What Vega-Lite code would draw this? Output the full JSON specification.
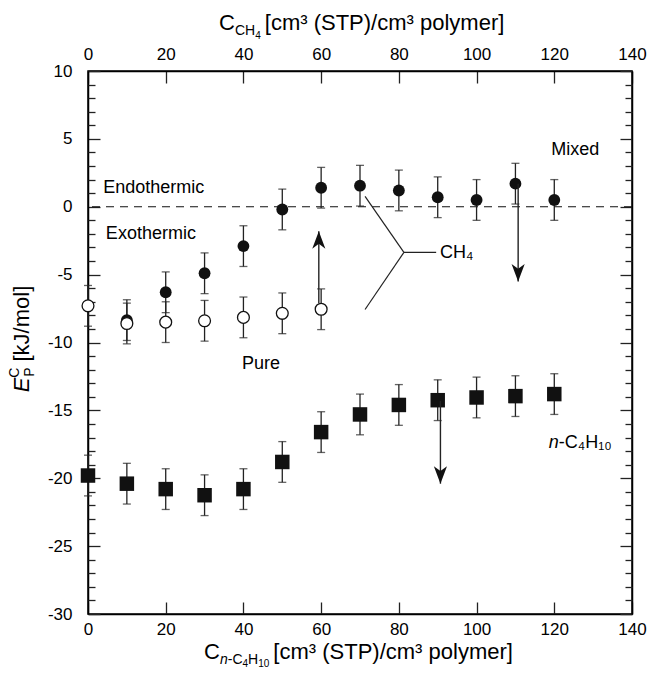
{
  "$schema": "https://vega.github.io/schema/vega-lite/v6.json",
  "width": 544,
  "height": 543,
  "autosize": {"type": "none"},
  "padding": {"left": 88, "top": 71, "right": 17, "bottom": 59},
  "background": "#ffffff",
  "config": {
    "font": "Liberation Sans",
    "view": {"stroke": "#000", "strokeWidth": 1.5},
    "axis": {
      "grid": false,
      "labelFont": "Liberation Sans",
      "labelFontSize": 17,
      "labelColor": "#000",
      "tickColor": "#222",
      "tickWidth": 1.3,
      "domainColor": "#000",
      "domainWidth": 1.5,
      "labelFlush": false,
      "labelOverlap": false,
      "labelExpr": "'' + datum.value"
    },
    "text": {"font": "Liberation Sans", "color": "#000"}
  },
  "datasets": {
    "points": [
      {"series": "Mixed", "x": 10, "y": -8.35, "lo": -9.85, "hi": -6.85},
      {"series": "Mixed", "x": 20, "y": -6.3, "lo": -7.8, "hi": -4.8},
      {"series": "Mixed", "x": 30, "y": -4.9, "lo": -6.4, "hi": -3.4},
      {"series": "Mixed", "x": 40, "y": -2.9, "lo": -4.4, "hi": -1.4},
      {"series": "Mixed", "x": 50, "y": -0.2, "lo": -1.7, "hi": 1.3},
      {"series": "Mixed", "x": 60, "y": 1.4, "lo": -0.1, "hi": 2.9},
      {"series": "Mixed", "x": 70, "y": 1.55, "lo": 0.05, "hi": 3.05},
      {"series": "Mixed", "x": 80, "y": 1.2, "lo": -0.3, "hi": 2.7},
      {"series": "Mixed", "x": 90, "y": 0.7, "lo": -0.8, "hi": 2.2},
      {"series": "Mixed", "x": 100, "y": 0.5, "lo": -1.0, "hi": 2.0},
      {"series": "Mixed", "x": 110, "y": 1.7, "lo": 0.2, "hi": 3.2},
      {"series": "Mixed", "x": 120, "y": 0.5, "lo": -1.0, "hi": 2.0},
      {"series": "Pure", "x": 0, "y": -7.3, "lo": -8.8, "hi": -5.8},
      {"series": "Pure", "x": 10, "y": -8.6, "lo": -10.1, "hi": -7.1},
      {"series": "Pure", "x": 20, "y": -8.5, "lo": -10.0, "hi": -7.0},
      {"series": "Pure", "x": 30, "y": -8.4, "lo": -9.9, "hi": -6.9},
      {"series": "Pure", "x": 40, "y": -8.15, "lo": -9.65, "hi": -6.65},
      {"series": "Pure", "x": 50, "y": -7.85, "lo": -9.35, "hi": -6.35},
      {"series": "Pure", "x": 60, "y": -7.55, "lo": -9.05, "hi": -6.05},
      {"series": "nC4H10", "x": 0, "y": -19.8, "lo": -21.3, "hi": -18.3},
      {"series": "nC4H10", "x": 10, "y": -20.4, "lo": -21.9, "hi": -18.9},
      {"series": "nC4H10", "x": 20, "y": -20.8, "lo": -22.3, "hi": -19.3},
      {"series": "nC4H10", "x": 30, "y": -21.25, "lo": -22.75, "hi": -19.75},
      {"series": "nC4H10", "x": 40, "y": -20.8, "lo": -22.3, "hi": -19.3},
      {"series": "nC4H10", "x": 50, "y": -18.8, "lo": -20.3, "hi": -17.3},
      {"series": "nC4H10", "x": 60, "y": -16.6, "lo": -18.1, "hi": -15.1},
      {"series": "nC4H10", "x": 70, "y": -15.3, "lo": -16.8, "hi": -13.8},
      {"series": "nC4H10", "x": 80, "y": -14.6, "lo": -16.1, "hi": -13.1},
      {"series": "nC4H10", "x": 90, "y": -14.25, "lo": -15.75, "hi": -12.75},
      {"series": "nC4H10", "x": 100, "y": -14.05, "lo": -15.55, "hi": -12.55},
      {"series": "nC4H10", "x": 110, "y": -13.95, "lo": -15.45, "hi": -12.45},
      {"series": "nC4H10", "x": 120, "y": -13.8, "lo": -15.3, "hi": -12.3}
    ],
    "arrows": [
      {"dir": "up", "x": 59.4, "from": -7.1, "to": -1.8},
      {"dir": "down", "x": 110.7, "from": 1.7, "to": -5.5},
      {"dir": "down", "x": 90.7, "from": -14.3, "to": -20.4}
    ],
    "connector": [
      {"x": 71.3, "y": 0.76, "x2": 81.3, "y2": -3.36},
      {"x": 81.3, "y": -3.36, "x2": 89.6, "y2": -3.36},
      {"x": 81.3, "y": -3.36, "x2": 71.3, "y2": -7.57}
    ],
    "notes": [
      {"label": "Endothermic", "x": 3.9, "y": 1.4},
      {"label": "Exothermic", "x": 4.6, "y": -2.0},
      {"label": "CH₄", "x": 90.6, "y": -3.4}
    ],
    "centered": [
      {"label": "Pure", "x": 44.5, "y": -11.6},
      {"label": "Mixed", "x": 125.4, "y": 4.2}
    ],
    "topTitle": [{"x": 45.5, "y": 13.0}],
    "bottomTitle": [{"x": 47.7, "y": -33.3}],
    "leftTitle": [{"x": -15.2, "y": -11.4}]
  },
  "resolve": {"axis": {"x": "independent", "y": "independent"}},
  "layer": [
    {
      "data": {"values": [{"level": 0}]},
      "mark": {"type": "rule", "strokeDash": [8, 6], "color": "#111", "strokeWidth": 1.1},
      "encoding": {
        "y": {
          "field": "level", "type": "quantitative",
          "scale": {"domain": [-30, 10], "nice": false, "zero": false},
          "axis": {
            "orient": "left", "title": null,
            "values": [-30, -25, -20, -15, -10, -5, 0, 5, 10],
            "tickSize": -12, "labelPadding": 28
          }
        }
      }
    },
    {
      "data": {"name": "points"},
      "mark": {"type": "rule", "color": "#222", "strokeWidth": 1.3},
      "encoding": {
        "x": {
          "field": "x", "type": "quantitative",
          "scale": {"domain": [0, 140], "nice": false, "zero": false},
          "axis": {
            "orient": "bottom", "title": null,
            "values": [0, 20, 40, 60, 80, 100, 120, 140],
            "tickSize": -12, "labelPadding": 19
          }
        },
        "y": {
          "field": "lo", "type": "quantitative",
          "scale": {"domain": [-30, 10], "nice": false, "zero": false},
          "axis": {
            "orient": "right", "title": null, "labels": false,
            "values": [-30, -25, -20, -15, -10, -5, 0, 5, 10],
            "tickSize": -12
          }
        },
        "y2": {"field": "hi"}
      }
    },
    {
      "data": {"name": "points"},
      "mark": {"type": "tick", "orient": "horizontal", "color": "#222", "size": 8, "thickness": 1.3},
      "encoding": {
        "x": {
          "field": "x", "type": "quantitative",
          "axis": {
            "orient": "top", "title": null,
            "values": [0, 20, 40, 60, 80, 100, 120, 140],
            "tickSize": -12, "labelPadding": 20
          }
        },
        "y": {
          "field": "lo", "type": "quantitative",
          "axis": {
            "orient": "left", "title": null, "labels": false, "domain": false,
            "values": [-29, -28, -27, -26, -24, -23, -22, -21, -19, -18, -17, -16, -14, -13, -12, -11, -9, -8, -7, -6, -4, -3, -2, -1, 1, 2, 3, 4, 6, 7, 8, 9],
            "tickSize": -7
          }
        }
      }
    },
    {
      "data": {"name": "points"},
      "mark": {"type": "tick", "orient": "horizontal", "color": "#222", "size": 8, "thickness": 1.3},
      "encoding": {
        "x": {"field": "x", "type": "quantitative", "axis": null},
        "y": {
          "field": "hi", "type": "quantitative",
          "axis": {
            "orient": "right", "title": null, "labels": false, "domain": false,
            "values": [-29, -28, -27, -26, -24, -23, -22, -21, -19, -18, -17, -16, -14, -13, -12, -11, -9, -8, -7, -6, -4, -3, -2, -1, 1, 2, 3, 4, 6, 7, 8, 9],
            "tickSize": -7
          }
        }
      }
    },
    {
      "data": {"name": "points"},
      "transform": [{"filter": "datum.series === 'nC4H10'"}],
      "mark": {"type": "point", "shape": "square", "filled": true, "color": "#111", "size": 210, "opacity": 1},
      "encoding": {
        "x": {"field": "x", "type": "quantitative", "axis": null},
        "y": {"field": "y", "type": "quantitative", "axis": null}
      }
    },
    {
      "data": {"name": "points"},
      "transform": [{"filter": "datum.series === 'Mixed'"}],
      "mark": {"type": "point", "shape": "circle", "filled": true, "color": "#111", "size": 140, "opacity": 1},
      "encoding": {
        "x": {"field": "x", "type": "quantitative", "axis": null},
        "y": {"field": "y", "type": "quantitative", "axis": null}
      }
    },
    {
      "data": {"name": "points"},
      "transform": [{"filter": "datum.series === 'Pure'"}],
      "mark": {"type": "point", "shape": "circle", "filled": false, "fill": "#fff", "fillOpacity": 1, "stroke": "#111", "strokeWidth": 1.3, "size": 140, "opacity": 1},
      "encoding": {
        "x": {"field": "x", "type": "quantitative", "axis": null},
        "y": {"field": "y", "type": "quantitative", "axis": null}
      }
    },
    {
      "data": {"name": "connector"},
      "mark": {"type": "rule", "color": "#222", "strokeWidth": 1.2},
      "encoding": {
        "x": {"field": "x", "type": "quantitative", "axis": null},
        "y": {"field": "y", "type": "quantitative", "axis": null},
        "x2": {"field": "x2"},
        "y2": {"field": "y2"}
      }
    },
    {
      "data": {"name": "arrows"},
      "mark": {"type": "rule", "color": "#222", "strokeWidth": 1.4},
      "encoding": {
        "x": {"field": "x", "type": "quantitative", "axis": null},
        "y": {"field": "from", "type": "quantitative", "axis": null},
        "y2": {"field": "to"}
      }
    },
    {
      "data": {"name": "arrows"},
      "transform": [{"filter": "datum.dir === 'up'"}],
      "mark": {"type": "point", "shape": "M0,0L0.6,1.6L0,1.15L-0.6,1.6Z", "filled": true, "color": "#111", "size": 480, "opacity": 1},
      "encoding": {
        "x": {"field": "x", "type": "quantitative", "axis": null},
        "y": {"field": "to", "type": "quantitative", "axis": null}
      }
    },
    {
      "data": {"name": "arrows"},
      "transform": [{"filter": "datum.dir === 'down'"}],
      "mark": {"type": "point", "shape": "M0,0L0.6,-1.6L0,-1.15L-0.6,-1.6Z", "filled": true, "color": "#111", "size": 480, "opacity": 1},
      "encoding": {
        "x": {"field": "x", "type": "quantitative", "axis": null},
        "y": {"field": "to", "type": "quantitative", "axis": null}
      }
    },
    {
      "data": {"name": "notes"},
      "mark": {"type": "text", "align": "left", "baseline": "middle", "fontSize": 18},
      "encoding": {
        "x": {"field": "x", "type": "quantitative", "axis": null},
        "y": {"field": "y", "type": "quantitative", "axis": null},
        "text": {"field": "label"}
      }
    },
    {
      "data": {"name": "centered"},
      "mark": {"type": "text", "align": "center", "baseline": "middle", "fontSize": 18},
      "encoding": {
        "x": {"field": "x", "type": "quantitative", "axis": null},
        "y": {"field": "y", "type": "quantitative", "axis": null},
        "text": {"field": "label"}
      }
    },
    {
      "data": {"values": [{"t": "n", "x": 118.6, "y": -17.4}]},
      "mark": {"type": "text", "align": "left", "baseline": "middle", "fontSize": 18, "fontStyle": "italic"},
      "encoding": {
        "x": {"field": "x", "type": "quantitative", "axis": null},
        "y": {"field": "y", "type": "quantitative", "axis": null},
        "text": {"field": "t"}
      }
    },
    {
      "data": {"values": [{"t": "-C₄H₁₀", "x": 118.6, "y": -17.4}]},
      "mark": {"type": "text", "align": "left", "baseline": "middle", "fontSize": 18, "dx": 10},
      "encoding": {
        "x": {"field": "x", "type": "quantitative", "axis": null},
        "y": {"field": "y", "type": "quantitative", "axis": null},
        "text": {"field": "t"}
      }
    },
    {
      "data": {"name": "topTitle"},
      "mark": {"type": "text", "align": "left", "baseline": "alphabetic", "fontSize": 22, "text": "[cm³ (STP)/cm³ polymer]"},
      "encoding": {
        "x": {"field": "x", "type": "quantitative", "axis": null},
        "y": {"field": "y", "type": "quantitative", "axis": null}
      }
    },
    {
      "data": {"name": "topTitle"},
      "mark": {"type": "text", "align": "right", "baseline": "alphabetic", "fontSize": 10, "dx": -4, "dy": 9, "text": "4"},
      "encoding": {
        "x": {"field": "x", "type": "quantitative", "axis": null},
        "y": {"field": "y", "type": "quantitative", "axis": null}
      }
    },
    {
      "data": {"name": "topTitle"},
      "mark": {"type": "text", "align": "right", "baseline": "alphabetic", "fontSize": 14, "dx": -9.6, "dy": 5, "text": "CH"},
      "encoding": {
        "x": {"field": "x", "type": "quantitative", "axis": null},
        "y": {"field": "y", "type": "quantitative", "axis": null}
      }
    },
    {
      "data": {"name": "topTitle"},
      "mark": {"type": "text", "align": "right", "baseline": "alphabetic", "fontSize": 22, "dx": -29.8, "text": "C"},
      "encoding": {
        "x": {"field": "x", "type": "quantitative", "axis": null},
        "y": {"field": "y", "type": "quantitative", "axis": null}
      }
    },
    {
      "data": {"name": "bottomTitle"},
      "mark": {"type": "text", "align": "left", "baseline": "alphabetic", "fontSize": 22, "text": "[cm³ (STP)/cm³ polymer]"},
      "encoding": {
        "x": {"field": "x", "type": "quantitative", "axis": null},
        "y": {"field": "y", "type": "quantitative", "axis": null}
      }
    },
    {
      "data": {"name": "bottomTitle"},
      "mark": {"type": "text", "align": "right", "baseline": "alphabetic", "fontSize": 10, "dx": -4, "dy": 8, "text": "10"},
      "encoding": {
        "x": {"field": "x", "type": "quantitative", "axis": null},
        "y": {"field": "y", "type": "quantitative", "axis": null}
      }
    },
    {
      "data": {"name": "bottomTitle"},
      "mark": {"type": "text", "align": "right", "baseline": "alphabetic", "fontSize": 14, "dx": -15.1, "dy": 5, "text": "H"},
      "encoding": {
        "x": {"field": "x", "type": "quantitative", "axis": null},
        "y": {"field": "y", "type": "quantitative", "axis": null}
      }
    },
    {
      "data": {"name": "bottomTitle"},
      "mark": {"type": "text", "align": "right", "baseline": "alphabetic", "fontSize": 10, "dx": -25.2, "dy": 8, "text": "4"},
      "encoding": {
        "x": {"field": "x", "type": "quantitative", "axis": null},
        "y": {"field": "y", "type": "quantitative", "axis": null}
      }
    },
    {
      "data": {"name": "bottomTitle"},
      "mark": {"type": "text", "align": "right", "baseline": "alphabetic", "fontSize": 14, "dx": -30.8, "dy": 5, "text": "-C"},
      "encoding": {
        "x": {"field": "x", "type": "quantitative", "axis": null},
        "y": {"field": "y", "type": "quantitative", "axis": null}
      }
    },
    {
      "data": {"name": "bottomTitle"},
      "mark": {"type": "text", "align": "right", "baseline": "alphabetic", "fontSize": 14, "fontStyle": "italic", "dx": -45.6, "dy": 5, "text": "n"},
      "encoding": {
        "x": {"field": "x", "type": "quantitative", "axis": null},
        "y": {"field": "y", "type": "quantitative", "axis": null}
      }
    },
    {
      "data": {"name": "bottomTitle"},
      "mark": {"type": "text", "align": "right", "baseline": "alphabetic", "fontSize": 22, "dx": -53.4, "text": "C"},
      "encoding": {
        "x": {"field": "x", "type": "quantitative", "axis": null},
        "y": {"field": "y", "type": "quantitative", "axis": null}
      }
    },
    {
      "data": {"name": "leftTitle"},
      "mark": {"type": "text", "align": "left", "baseline": "alphabetic", "fontSize": 22, "angle": 270, "text": "[kJ/mol]"},
      "encoding": {
        "x": {"field": "x", "type": "quantitative", "axis": null},
        "y": {"field": "y", "type": "quantitative", "axis": null}
      }
    },
    {
      "data": {"name": "leftTitle"},
      "mark": {"type": "text", "align": "right", "baseline": "alphabetic", "fontSize": 14, "angle": 270, "dx": -6, "dy": 5, "text": "P"},
      "encoding": {
        "x": {"field": "x", "type": "quantitative", "axis": null},
        "y": {"field": "y", "type": "quantitative", "axis": null}
      }
    },
    {
      "data": {"name": "leftTitle"},
      "mark": {"type": "text", "align": "right", "baseline": "alphabetic", "fontSize": 14, "angle": 270, "dx": -6, "dy": -10, "text": "C"},
      "encoding": {
        "x": {"field": "x", "type": "quantitative", "axis": null},
        "y": {"field": "y", "type": "quantitative", "axis": null}
      }
    },
    {
      "data": {"name": "leftTitle"},
      "mark": {"type": "text", "align": "right", "baseline": "alphabetic", "fontSize": 22, "fontStyle": "italic", "angle": 270, "dx": -16, "text": "E"},
      "encoding": {
        "x": {"field": "x", "type": "quantitative", "axis": null},
        "y": {"field": "y", "type": "quantitative", "axis": null}
      }
    }
  ]
}
